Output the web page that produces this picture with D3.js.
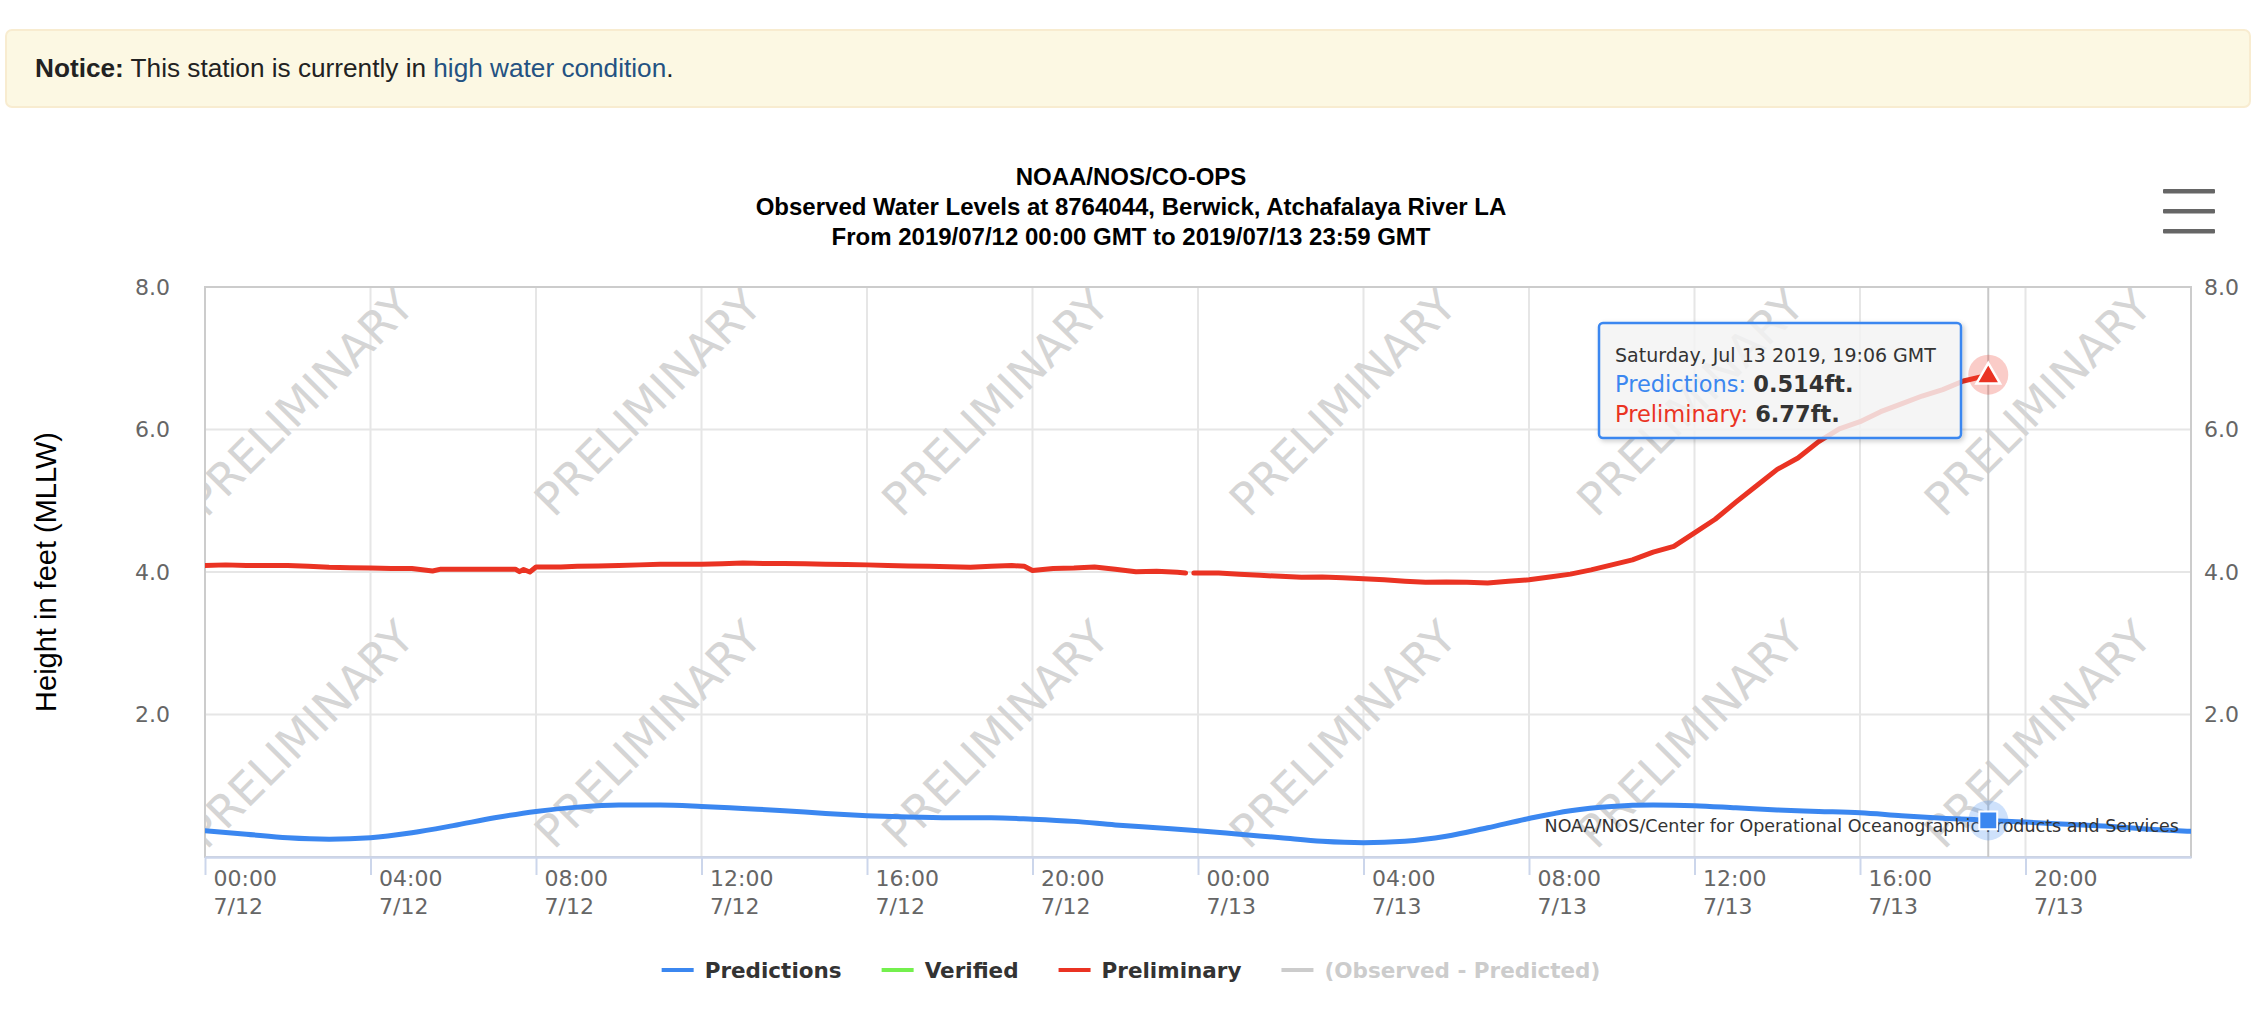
<!DOCTYPE html>
<html>
<head>
<meta charset="utf-8">
<script src="https://cdn.jsdelivr.net/npm/d3@7"></script>
<style>
  body { margin: 0; background: #fff; }
  svg { display: block; }
</style>
</head>
<body>
<svg id="svg" width="2256" height="1014"></svg>
<script>
// ---- data ----
var titleLines = [
  "NOAA/NOS/CO-OPS",
  "Observed Water Levels at 8764044, Berwick, Atchafalaya River LA",
  "From 2019/07/12 00:00 GMT to 2019/07/13 23:59 GMT"
];
var startTime = Date.UTC(2019, 6, 12, 0, 0);
var endTime = Date.UTC(2019, 6, 14, 0, 0);
var yTicks = [2, 4, 6, 8];

// hours after 2019/07/12 00:00 GMT
var predHours = [0, 1, 2, 3, 4, 5, 6, 7, 8, 9, 10, 11, 12, 13, 14, 15, 16, 17, 18, 19, 20, 21, 22, 23,
  24, 25, 26, 27, 28, 29, 30, 31, 32, 33, 34, 35, 36, 37, 38, 39, 40, 41, 42, 43, 43.1, 44, 45, 46, 47, 48];
var predValues = [0.37, 0.32, 0.27, 0.25, 0.27, 0.34, 0.44, 0.55, 0.64, 0.70, 0.73, 0.73, 0.71, 0.68, 0.65, 0.61,
  0.58, 0.56, 0.55, 0.55, 0.53, 0.50, 0.45, 0.41, 0.37, 0.32, 0.27, 0.22, 0.20, 0.22, 0.29, 0.41, 0.54, 0.65,
  0.71, 0.73, 0.72, 0.69, 0.66, 0.64, 0.62, 0.58, 0.545, 0.518, 0.514, 0.49, 0.46, 0.43, 0.39, 0.36];

var prelimHours = [0, 0.5, 1, 1.5, 2, 2.5, 3, 3.5, 4, 4.5, 5, 5.5, 5.7, 6, 6.5, 7, 7.5, 7.6, 7.7, 7.85, 8, 8.6,
  9, 9.5, 10, 10.5, 11, 11.5, 12, 12.5, 13, 13.5, 14, 14.5, 15, 15.5, 16, 16.5, 17, 17.5, 18, 18.5, 19, 19.5,
  19.8, 20, 20.5, 21, 21.5, 22, 22.5, 23, 23.5, 23.7, 23.8, 23.9, 24.5, 25, 25.5, 26, 26.5, 27, 27.5, 28, 28.5,
  29, 29.5, 30, 30.5, 31, 31.5, 32, 32.5, 33, 33.5, 34, 34.5, 35, 35.5, 36, 36.5, 37, 37.5, 38, 38.5, 39, 39.5,
  40, 40.5, 41, 41.5, 42, 42.5, 43, 43.1];
var prelimValues = [4.09, 4.10, 4.09, 4.09, 4.09, 4.08, 4.065, 4.06, 4.055, 4.05, 4.05, 4.015, 4.04, 4.04, 4.04,
  4.04, 4.04, 4.005, 4.035, 4.0, 4.07, 4.07, 4.08, 4.085, 4.09, 4.10, 4.11, 4.11, 4.11, 4.115, 4.125, 4.12, 4.12,
  4.115, 4.11, 4.105, 4.10, 4.09, 4.085, 4.08, 4.075, 4.065, 4.08, 4.09, 4.08, 4.02, 4.05, 4.055, 4.07, 4.04,
  4.005, 4.01, 3.995, 3.986, null, 3.986, 3.986, 3.97, 3.953, 3.94, 3.925, 3.93, 3.92, 3.906, 3.89, 3.87, 3.855,
  3.86, 3.855, 3.846, 3.87, 3.89, 3.93, 3.97, 4.03, 4.10, 4.17, 4.28, 4.36, 4.55, 4.74, 4.98, 5.21, 5.44, 5.60,
  5.83, 6.01, 6.11, 6.25, 6.36, 6.47, 6.56, 6.68, 6.75, 6.77];

var legendNames = ["Predictions", "Verified", "Preliminary", "(Observed - Predicted)"];
var legendColors = ["#3b87f0", "#74f04e", "#ea3323", "#cccccc"];
var legendTextColors = ["#333", "#333", "#333", "#cccccc"];
var hoverHour = 43.1;

var blue = legendColors[0], red = legendColors[2];
var HOUR = 3600 * 1000;

// ---- layout ----
var svg = d3.select("#svg");
var plot = { left: 205, right: 2191, top: 287, bottom: 857 };

var x = d3.scaleUtc().domain([startTime, endTime]).range([plot.left, plot.right]);
var y = d3.scaleLinear().domain([0, 8]).range([plot.bottom, plot.top]);

var defs = svg.append("defs");
defs.append("clipPath").attr("id", "plotclip")
  .append("rect")
  .attr("x", plot.left).attr("y", plot.top)
  .attr("width", plot.right - plot.left).attr("height", plot.bottom - plot.top);
var shadow = defs.append("filter").attr("id", "shadow")
  .attr("x", "-10%").attr("y", "-10%").attr("width", "130%").attr("height", "140%");
shadow.append("feDropShadow").attr("dx", 2).attr("dy", 2).attr("stdDeviation", 2.5)
  .attr("flood-color", "#000").attr("flood-opacity", 0.22);

// notice banner
svg.append("rect")
  .attr("x", 6).attr("y", 30).attr("width", 2244).attr("height", 77).attr("rx", 6)
  .attr("fill", "#fcf8e3").attr("stroke", "#f8ecd0").attr("stroke-width", 2);
var notice = svg.append("text")
  .attr("x", 35).attr("y", 77)
  .attr("font-family", "'Liberation Sans', Arial, sans-serif")
  .attr("font-size", 26.2).attr("fill", "#222");
notice.append("tspan").attr("font-weight", "bold").text("Notice:");
notice.append("tspan").text(" This station is currently in ");
notice.append("tspan").attr("fill", "#245282").text("high water condition");
notice.append("tspan").text(".");

// title
svg.append("g").selectAll("text")
  .data(titleLines)
  .join("text")
  .attr("x", 1131).attr("y", (d, i) => 185 + i * 30)
  .attr("text-anchor", "middle")
  .attr("font-family", "'Liberation Sans', Arial, sans-serif")
  .attr("font-weight", "bold").attr("font-size", 24).attr("fill", "#000")
  .text(d => d);

// hamburger menu
svg.append("g").selectAll("rect")
  .data([0, 1, 2])
  .join("rect")
  .attr("x", 2163).attr("y", d => 189 + d * 20)
  .attr("width", 52).attr("height", 4.5).attr("rx", 1)
  .attr("fill", "#666");

// grid
var xTicks = x.ticks(d3.utcHour.every(4)).filter(d => +d < endTime);
var grid = svg.append("g");
grid.selectAll(".hg").data(yTicks).join("line")
  .attr("x1", plot.left).attr("x2", plot.right)
  .attr("y1", d => y(d)).attr("y2", d => y(d))
  .attr("stroke", "#e6e6e6").attr("stroke-width", 2);
grid.selectAll(".vg").data(xTicks).join("line")
  .attr("x1", d => x(d)).attr("x2", d => x(d))
  .attr("y1", plot.top).attr("y2", plot.bottom)
  .attr("stroke", "#e6e6e6").attr("stroke-width", 2);

// PRELIMINARY watermark
var marks = [];
for (var r = 0; r < 2; r++) {
  for (var c = 0; c < 6; c++) {
    marks.push({ cx: plot.left + 95 + c * 347.5, cy: plot.top + 115 + r * 332 });
  }
}
svg.append("g").attr("clip-path", "url(#plotclip)")
  .selectAll("text").data(marks).join("text")
  .attr("transform", d => "translate(" + d.cx + "," + d.cy + ") rotate(-45)")
  .attr("text-anchor", "middle").attr("dy", "0.36em")
  .attr("font-family", "'DejaVu Sans', sans-serif").attr("font-size", 45)
  .attr("fill", "#d5d5d5")
  .text("PRELIMINARY");

// plot border
svg.append("rect")
  .attr("x", plot.left).attr("y", plot.top)
  .attr("width", plot.right - plot.left).attr("height", plot.bottom - plot.top)
  .attr("fill", "none").attr("stroke", "#cccccc").attr("stroke-width", 2);

// x axis
var fmtTime = d3.utcFormat("%H:%M"), fmtDay = d3.utcFormat("%-m/%d");
var xAxis = svg.append("g")
  .attr("transform", "translate(0," + plot.bottom + ")")
  .call(d3.axisBottom(x).tickValues(xTicks).tickSize(18).tickSizeOuter(0).tickFormat(""));
xAxis.select(".domain").attr("stroke", "#ccd6eb").attr("stroke-width", 2.5);
xAxis.selectAll(".tick line").attr("stroke", "#ccd6eb").attr("stroke-width", 2);
xAxis.selectAll(".tick text").remove();
xAxis.selectAll(".tick").each(function (d) {
  var t = d3.select(this).append("text")
    .attr("x", 8).attr("y", 0)
    .attr("text-anchor", "start")
    .attr("font-family", "'DejaVu Sans', sans-serif").attr("font-size", 22)
    .attr("fill", "#666");
  t.append("tspan").attr("x", 8).attr("y", 29).text(fmtTime(d));
  t.append("tspan").attr("x", 8).attr("y", 57).text(fmtDay(d));
});

// y axes, left and right
function styleY(g) {
  g.select(".domain").remove();
  g.selectAll(".tick line").remove();
  g.selectAll(".tick text")
    .attr("font-family", "'DejaVu Sans', sans-serif").attr("font-size", 22)
    .attr("fill", "#666");
}
svg.append("g").attr("transform", "translate(" + plot.left + ",0)")
  .call(d3.axisLeft(y).tickValues(yTicks).tickSize(0).tickPadding(35).tickFormat(d3.format(".1f")))
  .call(styleY);
svg.append("g").attr("transform", "translate(" + plot.right + ",0)")
  .call(d3.axisRight(y).tickValues(yTicks).tickSize(0).tickPadding(13).tickFormat(d3.format(".1f")))
  .call(styleY);

svg.append("text")
  .attr("transform", "translate(46," + y(4) + ") rotate(-90)")
  .attr("text-anchor", "middle").attr("dy", "0.35em")
  .attr("font-family", "'Liberation Sans', Arial, sans-serif").attr("font-size", 29)
  .attr("fill", "#000")
  .text("Height in feet (MLLW)");

// crosshair
var hoverX = x(startTime + hoverHour * HOUR);
svg.append("line")
  .attr("x1", hoverX).attr("x2", hoverX).attr("y1", plot.top).attr("y2", plot.bottom)
  .attr("stroke", "#c8c8c8").attr("stroke-width", 2);

// series
var predData = predHours.map((h, i) => ({ t: startTime + h * HOUR, v: predValues[i] }));
var prelimData = prelimHours.map((h, i) => ({ t: startTime + h * HOUR, v: prelimValues[i] }));

var series = svg.append("g").attr("clip-path", "url(#plotclip)");
series.append("path")
  .datum(predData)
  .attr("fill", "none").attr("stroke", blue).attr("stroke-width", 5)
  .attr("stroke-linejoin", "round").attr("stroke-linecap", "round")
  .attr("d", d3.line().x(d => x(d.t)).y(d => y(d.v)).curve(d3.curveMonotoneX));
series.append("path")
  .datum(prelimData)
  .attr("fill", "none").attr("stroke", red).attr("stroke-width", 5)
  .attr("stroke-linejoin", "round").attr("stroke-linecap", "round")
  .attr("d", d3.line().defined(d => d.v != null).x(d => x(d.t)).y(d => y(d.v)));

// credits
svg.append("text")
  .attr("x", 2179).attr("y", 832).attr("text-anchor", "end")
  .attr("font-family", "'DejaVu Sans', sans-serif").attr("font-size", 17.5)
  .attr("fill", "#333")
  .text("NOAA/NOS/Center for Operational Oceanographic Products and Services");

// hover markers
var predHover = predData[predHours.indexOf(hoverHour)];
var prelimHover = prelimData[prelimHours.indexOf(hoverHour)];
svg.append("circle").attr("cx", x(predHover.t)).attr("cy", y(predHover.v)).attr("r", 20)
  .attr("fill", blue).attr("fill-opacity", 0.25);
svg.append("path")
  .attr("transform", "translate(" + x(predHover.t) + "," + y(predHover.v) + ")")
  .attr("d", d3.symbol(d3.symbolSquare, 320)())
  .attr("fill", blue).attr("stroke", "#fff").attr("stroke-width", 2);
svg.append("circle").attr("cx", x(prelimHover.t)).attr("cy", y(prelimHover.v)).attr("r", 20)
  .attr("fill", red).attr("fill-opacity", 0.25);
svg.append("path")
  .attr("transform", "translate(" + x(prelimHover.t) + "," + (y(prelimHover.v) + 2) + ")")
  .attr("d", d3.symbol(d3.symbolTriangle, 240)())
  .attr("fill", red).attr("stroke", "#fff").attr("stroke-width", 2.5);

// tooltip
var fmtHeader = d3.utcFormat("%A, %b %d %Y, %H:%M GMT");
var tip = svg.append("g").attr("transform", "translate(1599,323)");
tip.append("rect")
  .attr("width", 362).attr("height", 115).attr("rx", 4)
  .attr("fill", "#f7f7f7").attr("fill-opacity", 0.8)
  .attr("stroke", blue).attr("stroke-width", 2.5)
  .attr("filter", "url(#shadow)");
tip.append("text")
  .attr("x", 16).attr("y", 39)
  .attr("font-family", "'DejaVu Sans', sans-serif").attr("font-size", 19)
  .attr("fill", "#333")
  .text(fmtHeader(new Date(predHover.t)));
var tipRows = [
  { name: legendNames[0], color: blue, value: d3.format(".3f")(predHover.v) + "ft." },
  { name: legendNames[2], color: red, value: d3.format(".2f")(prelimHover.v) + "ft." }
];
tipRows.forEach(function (row, i) {
  var t = tip.append("text")
    .attr("x", 16).attr("y", 69 + i * 30)
    .attr("font-family", "'DejaVu Sans', sans-serif").attr("font-size", 22.5);
  t.append("tspan").attr("fill", row.color).text(row.name + ": ");
  t.append("tspan").attr("fill", "#333").attr("font-weight", "bold").text(row.value);
});

// legend
var legend = svg.append("g");
var items = legend.selectAll("g").data(legendNames).join("g");
items.append("line")
  .attr("x1", 0).attr("x2", 32).attr("y1", 0).attr("y2", 0)
  .attr("stroke", (d, i) => legendColors[i]).attr("stroke-width", 4);
items.append("text")
  .attr("x", 43).attr("y", 8)
  .attr("font-family", "'DejaVu Sans', sans-serif").attr("font-weight", "bold").attr("font-size", 21.5)
  .attr("fill", (d, i) => legendTextColors[i])
  .text(d => d);
var offs = [], pos = 0;
items.each(function () {
  offs.push(pos);
  pos += 43 + d3.select(this).select("text").node().getComputedTextLength() + 40;
});
var legendWidth = pos - 40;
items.attr("transform", (d, i) => "translate(" + (offs[i]) + ",0)");
legend.attr("transform", "translate(" + (1131 - legendWidth / 2) + ",970)");
</script>
</body>
</html>
